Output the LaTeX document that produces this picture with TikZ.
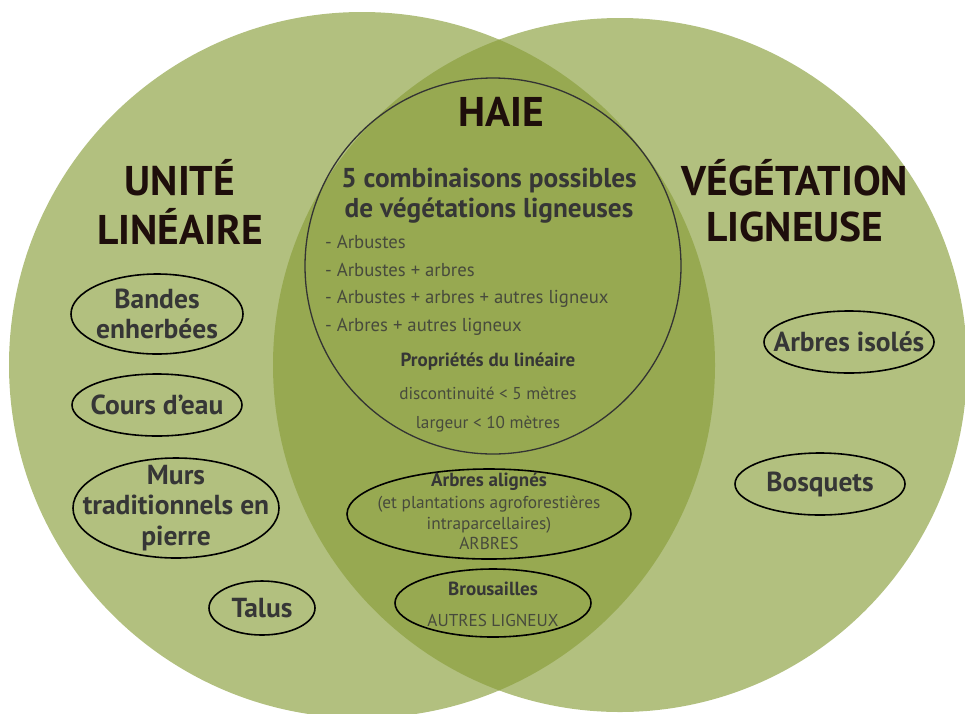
\documentclass[tikz,border=0pt]{standalone}
\usepackage{fontspec}
\setmainfont{PT Sans}
\usetikzlibrary{shapes.geometric}
\definecolor{lightg}{HTML}{B2C07F}
\definecolor{darkg}{HTML}{97A951}
\definecolor{titlec}{HTML}{1E0E0B}
\definecolor{textc}{HTML}{363636}
\definecolor{softc}{HTML}{474A3C}
\begin{document}
\begin{tikzpicture}[x=1pt,y=-1pt,
  title/.style={font=\bfseries\fontsize{41.5}{49}\selectfont, text=titlec, align=center, inner sep=0},
  oval/.style={ellipse, draw=black, line width=1.6pt, inner sep=0},
  ovaltext/.style={inner sep=0, align=center, text=textc, font=\bfseries\fontsize{27.5}{30.5}\selectfont},
  listitem/.style={anchor=west, inner sep=0, text=softc, font=\fontsize{18.7}{20}\selectfont},
  soft/.style={inner sep=0, text=softc, font=\fontsize{17.2}{20}\selectfont},
  hbold/.style={inner sep=0, text=textc, font=\bfseries\fontsize{19}{20}\selectfont}]
\useasboundingbox (0,0) rectangle (965,713);
\begin{scope}
  \clip (0,0) rectangle (965,713);
  \fill[lightg] (362,365) circle [radius=353pt];
  \fill[lightg] (620,365) circle [radius=347pt];
  \begin{scope}
    \clip (362,365) circle [radius=353pt];
    \fill[darkg] (620,365) circle [radius=347pt];
  \end{scope}
\end{scope}
\draw[line width=1.3pt, draw=black!80] (493,266) circle [radius=188pt];

% titles
\node[title] (unite) at (180,178) {UNITÉ};
\node[title] (lineaire) at (180,227) {LINÉAIRE};
\node[title] (vege) at (795,178) {VÉGÉTATION};
\node[title] (ligneuse) at (795,227) {LIGNEUSE};
\node[title] (haie) at (501,112) {HAIE};

% haie content
\node[inner sep=0, align=center, text=textc, font=\bfseries\fontsize{27.3}{30}\selectfont] (comb) at (489,196) {5 combinaisons possibles\\de végétations ligneuses};
\node[listitem] (l1) at (325,242) {- Arbustes};
\node[listitem] (l2) at (325,270) {- Arbustes + arbres};
\node[listitem] (l3) at (325,299) {- Arbustes + arbres + autres ligneux};
\node[listitem] (l4) at (325,327) {- Arbres + autres ligneux};
\node[hbold] (prop) at (488,362) {Propriétés du linéaire};
\node[soft] (disc) at (488,393) {discontinuité < 5 mètres};
\node[soft] (larg) at (488,424) {largeur < 10 mètres};

% left ovals
\node[oval, minimum width=172pt, minimum height=80pt] (bandes) at (157,314) {};
\node[ovaltext] (bandest) at (bandes.center) {Bandes\\enherbées};
\node[oval, minimum width=170pt, minimum height=62pt] (cours) at (157,405) {};
\node[ovaltext] (courst) at (cours.center) {Cours d’eau};
\node[oval, minimum width=206pt, minimum height=100pt] (murs) at (176,508) {};
\node[ovaltext] (murst) at (murs.center) {Murs\\traditionnels en\\pierre};
\node[oval, minimum width=106pt, minimum height=54pt] (talus) at (262,608) {};
\node[ovaltext] (talust) at (talus.center) {Talus};

% right ovals
\node[oval, minimum width=170pt, minimum height=62pt] (isoles) at (849,342) {};
\node[ovaltext] (isolest) at (isoles.center) {Arbres isolés};
\node[oval, minimum width=170pt, minimum height=62pt] (bosquets) at (820,484) {};
\node[ovaltext] (bosquetst) at (bosquets.center) {Bosquets};

% central ovals
\node[oval, minimum width=284pt, minimum height=90pt] (alignes) at (489,514) {};
\node[hbold] (alignest) at (489,482) {Arbres alignés};
\node[soft, align=center, font=\fontsize{17.3}{20.5}\selectfont] (alignesb) at (489,523) {(et plantations agroforestières\\intraparcellaires)\\ARBRES};
\node[oval, minimum width=196pt, minimum height=68pt] (brous) at (493,603) {};
\node[hbold] (broust) at (493,589) {Brousailles};
\node[soft] (brousb) at (493,620) {AUTRES LIGNEUX};
\end{tikzpicture}
\end{document}
